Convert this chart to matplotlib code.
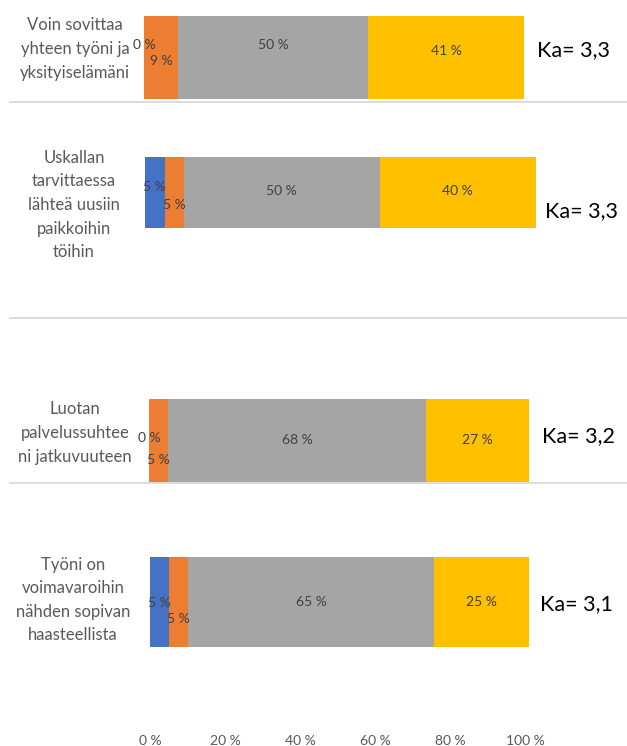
import matplotlib
matplotlib.use("Agg")
import matplotlib.pyplot as plt

plt.rcParams["font.family"] = ["Lato", "DejaVu Sans"]

W, H = 627, 746

statements = [
    "Voin sovittaa\nyhteen työni ja\nyksityiselämäni",
    "Uskallan\ntarvittaessa\nlähteä uusiin\npaikkoihin\ntöihin",
    "Luotan\npalvelussuhtee\nni jatkuvuuteen",
    "Työni on\nvoimavaroihin\nnähden sopivan\nhaasteellista",
]
# answer shares per statement, in %: 1, 2, 3, 4
share_1 = [0, 5, 0, 5]
share_2 = [9, 5, 5, 5]
share_3 = [50, 50, 68, 65]
share_4 = [41, 40, 27, 25]
means = ["3,3", "3,3", "3,2", "3,1"]
ticks = [0, 20, 40, 60, 80, 100]

colors = ["#4472C4", "#ED7D31", "#A5A5A5", "#FFC000"]
lab_col = "#404040"

# each bar was a separate chart: pixel box (left, top, width of 100 %, bottom)
boxes = [(144, 16, 380, 99), (145, 157, 391, 228), (149, 399, 380, 482), (150, 557, 379, 647)]
text_pos = [(75, 49), (74, 205), (75, 433), (73, 600)]
ka_pos = [(537, 50), (545, 211), (542, 436), (540, 604)]
# vertical offsets (points) for the data labels, crowded ones pushed apart
offs = [[9, -2.5, 9, 5],
        [4, -9, 1, 1],
        [2, -14, 0, 0],
        [-1, -12, 0, 0]]

fig = plt.figure(figsize=(W / 100, H / 100), dpi=100)


def fx(px):
    return px / W


def fy(py):
    return 1 - py / H


# separator lines
for y in [101.5, 317.5, 482.5]:
    fig.add_artist(plt.Line2D([fx(10), fx(627)], [fy(y), fy(y)], color="#DCDCDC", lw=1.4))

for i, (x0, top, w, bot) in enumerate(boxes):
    ax = fig.add_axes([fx(x0), fy(bot), w / W, (bot - top) / H])
    vals = [share_1[i], share_2[i], share_3[i], share_4[i]]
    left = 0
    for j, v in enumerate(vals):
        ax.barh(0, v, left=left, height=1, color=colors[j], edgecolor="none")
        ax.annotate(f"{v} %", (left + v / 2, 0), xytext=(0, offs[i][j]), textcoords="offset points",
                    ha="center", va="center", fontsize=10, color=lab_col)
        left += v
    ax.set_xlim(0, 100)
    ax.set_ylim(-0.5, 0.5)
    ax.axis("off")

    tx, ty = text_pos[i]
    fig.text(fx(tx), fy(ty), statements[i], ha="center", va="center", fontsize=12,
             color="#595959", linespacing=1.58)
    kx, ky = ka_pos[i]
    fig.text(fx(kx), fy(ky), f"Ka= {means[i]}", ha="left", va="center", fontsize=15.5, color="black")

# shared percentage scale at the bottom
axb = fig.add_axes([fx(150), fy(735), 375 / W, 0.001])
axb.set_xlim(0, 100)
axb.set_xticks(ticks)
axb.set_xticklabels([f"{t} %" for t in ticks], fontsize=10, color="#595959")
axb.tick_params(length=0, pad=0)
axb.set_yticks([])
for s in axb.spines.values():
    s.set_visible(False)

fig.savefig("out.png", dpi=100)
